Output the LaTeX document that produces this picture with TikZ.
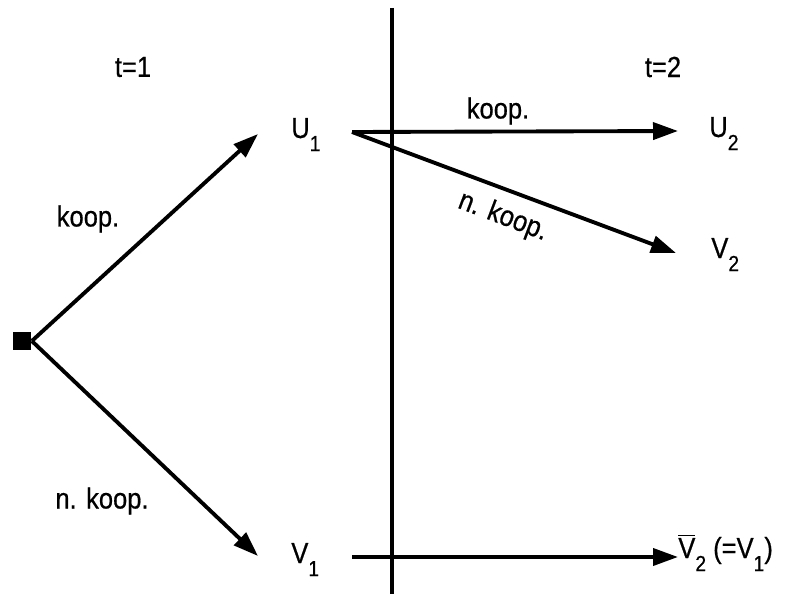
\documentclass[tikz,border=0pt]{standalone}
\usepackage{fontspec}
\setmainfont{Liberation Sans}[FakeStretch=0.88,FakeBold=0.6]
\usetikzlibrary{arrows.meta}
\newcommand{\lowsub}[1]{\raisebox{-7.5pt}{\fontsize{12.5}{12.5}\selectfont #1}}
\begin{document}
\begin{tikzpicture}[x=0.02cm,y=-0.02cm,
  lbl/.style={inner sep=0pt,font=\fontsize{16.5}{18}\selectfont},
  sym/.style={lbl,anchor=base west},
  arr/.style={line width=2.2pt,-{Triangle[length=0.5cm,width=0.34cm]}},
  plain/.style={line width=2.2pt}]
\useasboundingbox (0,0) rectangle (790,594);
\node[fill=black,minimum size=0.38cm,inner sep=0pt] (r) at (22,341) {};
\coordinate (u1in) at (258,134);
\coordinate (v1in) at (258,556);
\coordinate (u1out) at (352,132);
\coordinate (v1out) at (352,557);
\coordinate (u2in) at (678,131);
\coordinate (v2in) at (676,253);
\coordinate (vbin) at (678,557);
\coordinate (vtop) at (392,8);
\coordinate (vbot) at (392,594);
\node[sym] (U1) at (291,138) {U\lowsub{1}};
\node[sym] (V1) at (291,563) {V\lowsub{1}};
\node[sym] (U2) at (709,137) {U\lowsub{2}};
\node[sym] (V2) at (711,258) {V\lowsub{2}};
\node[sym] (VB) at (678,558) {$\overline{\hbox{V}}$\lowsub{2} (=V\lowsub{1})};
\node[lbl] (t1) at (133,67) {t=1};
\node[lbl] (t2) at (663,67) {t=2};
\node[lbl] (k1) at (88,219) {koop.};
\node[lbl] (nk1) at (102,501) {n. koop.};
\node[lbl] (k2) at (498,111) {koop.};
\node[lbl,rotate=-20.7] (nk2) at (503,217) {n. koop.};
\draw[plain] (vtop) -- (vbot);
\draw[arr] (r.east) -- (u1in);
\draw[arr] (r.east) -- (v1in);
\draw[arr] (u1out) -- (u2in);
\draw[arr] (u1out) -- (v2in);
\draw[arr] (v1out) -- (vbin);
\end{tikzpicture}
\end{document}
